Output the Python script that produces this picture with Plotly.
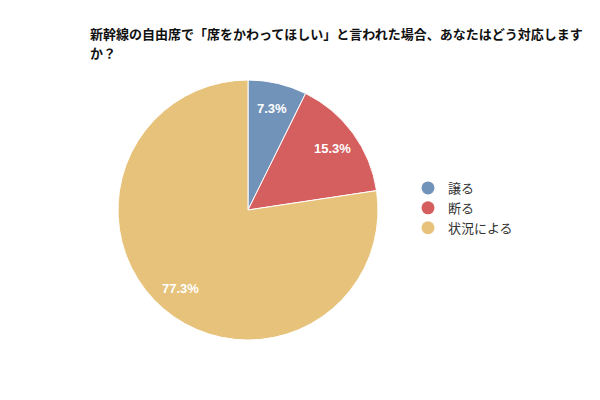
import math
import plotly.graph_objects as go

labels = ["譲る", "断る", "状況による"]
values = [7.3, 15.3, 77.3]
colors = ["#7293b9", "#d55e5e", "#e6c27a"]
title_lines = ["新幹線の自由席で「席をかわってほしい」と言われた場合、あなたはどう対応します", "か？"]

W, H = 600, 400
# pie placement (pixels)
cx, cy, R = 248, 210, 130

fig = go.Figure(go.Pie(
    labels=labels,
    values=values,
    sort=False,
    direction="clockwise",
    rotation=0,
    marker=dict(colors=colors, line=dict(color="white", width=1)),
    textinfo="none",
    hoverinfo="label+percent",
    showlegend=False,
    domain=dict(x=[(cx - R) / W, (cx + R) / W], y=[1 - (cy + R) / H, 1 - (cy - R) / H]),
))

# legend entries with circle markers
for lab, col in zip(labels, colors):
    fig.add_trace(go.Scatter(
        x=[None], y=[None], mode="markers", name=lab,
        marker=dict(symbol="circle", size=13, color=col),
        showlegend=True,
    ))

annotations = []
total = sum(values)
cum = 0.0
for v in values:
    frac = (cum + v / 2) / total
    cum += v
    th = 2 * math.pi * frac
    r = 0.8 * R
    px = cx + r * math.sin(th)
    py = cy - r * math.cos(th)
    annotations.append(dict(
        text=f"<b>{v}%</b>", x=px / W, y=1 - py / H, xref="paper", yref="paper",
        xanchor="center", yanchor="middle", showarrow=False,
        font=dict(size=13, color="white", family="Liberation Sans, Arial, sans-serif"),
    ))

for i, line in enumerate(title_lines):
    annotations.append(dict(
        text=f"<b>{line}</b>",
        x=88 / W, y=1 - (33 + 19 * i) / H, xref="paper", yref="paper",
        xanchor="left", yanchor="middle", align="left", showarrow=False,
        font=dict(size=13, color="#111111"),
    ))

fig.update_layout(
    width=W, height=H,
    margin=dict(l=0, r=0, t=0, b=0),
    paper_bgcolor="white",
    plot_bgcolor="white",
    font=dict(family="Noto Sans CJK JP", color="#333333"),
    xaxis=dict(visible=False),
    yaxis=dict(visible=False),
    annotations=annotations,
    legend=dict(
        x=408 / W, y=1 - 208 / H, xanchor="left", yanchor="middle",
        font=dict(size=13, color="#333333"),
        bgcolor="rgba(0,0,0,0)",
    ),
)

fig.write_html("out.html", config={"displayModeBar": False},
               post_script="document.body.style.margin='0';")
